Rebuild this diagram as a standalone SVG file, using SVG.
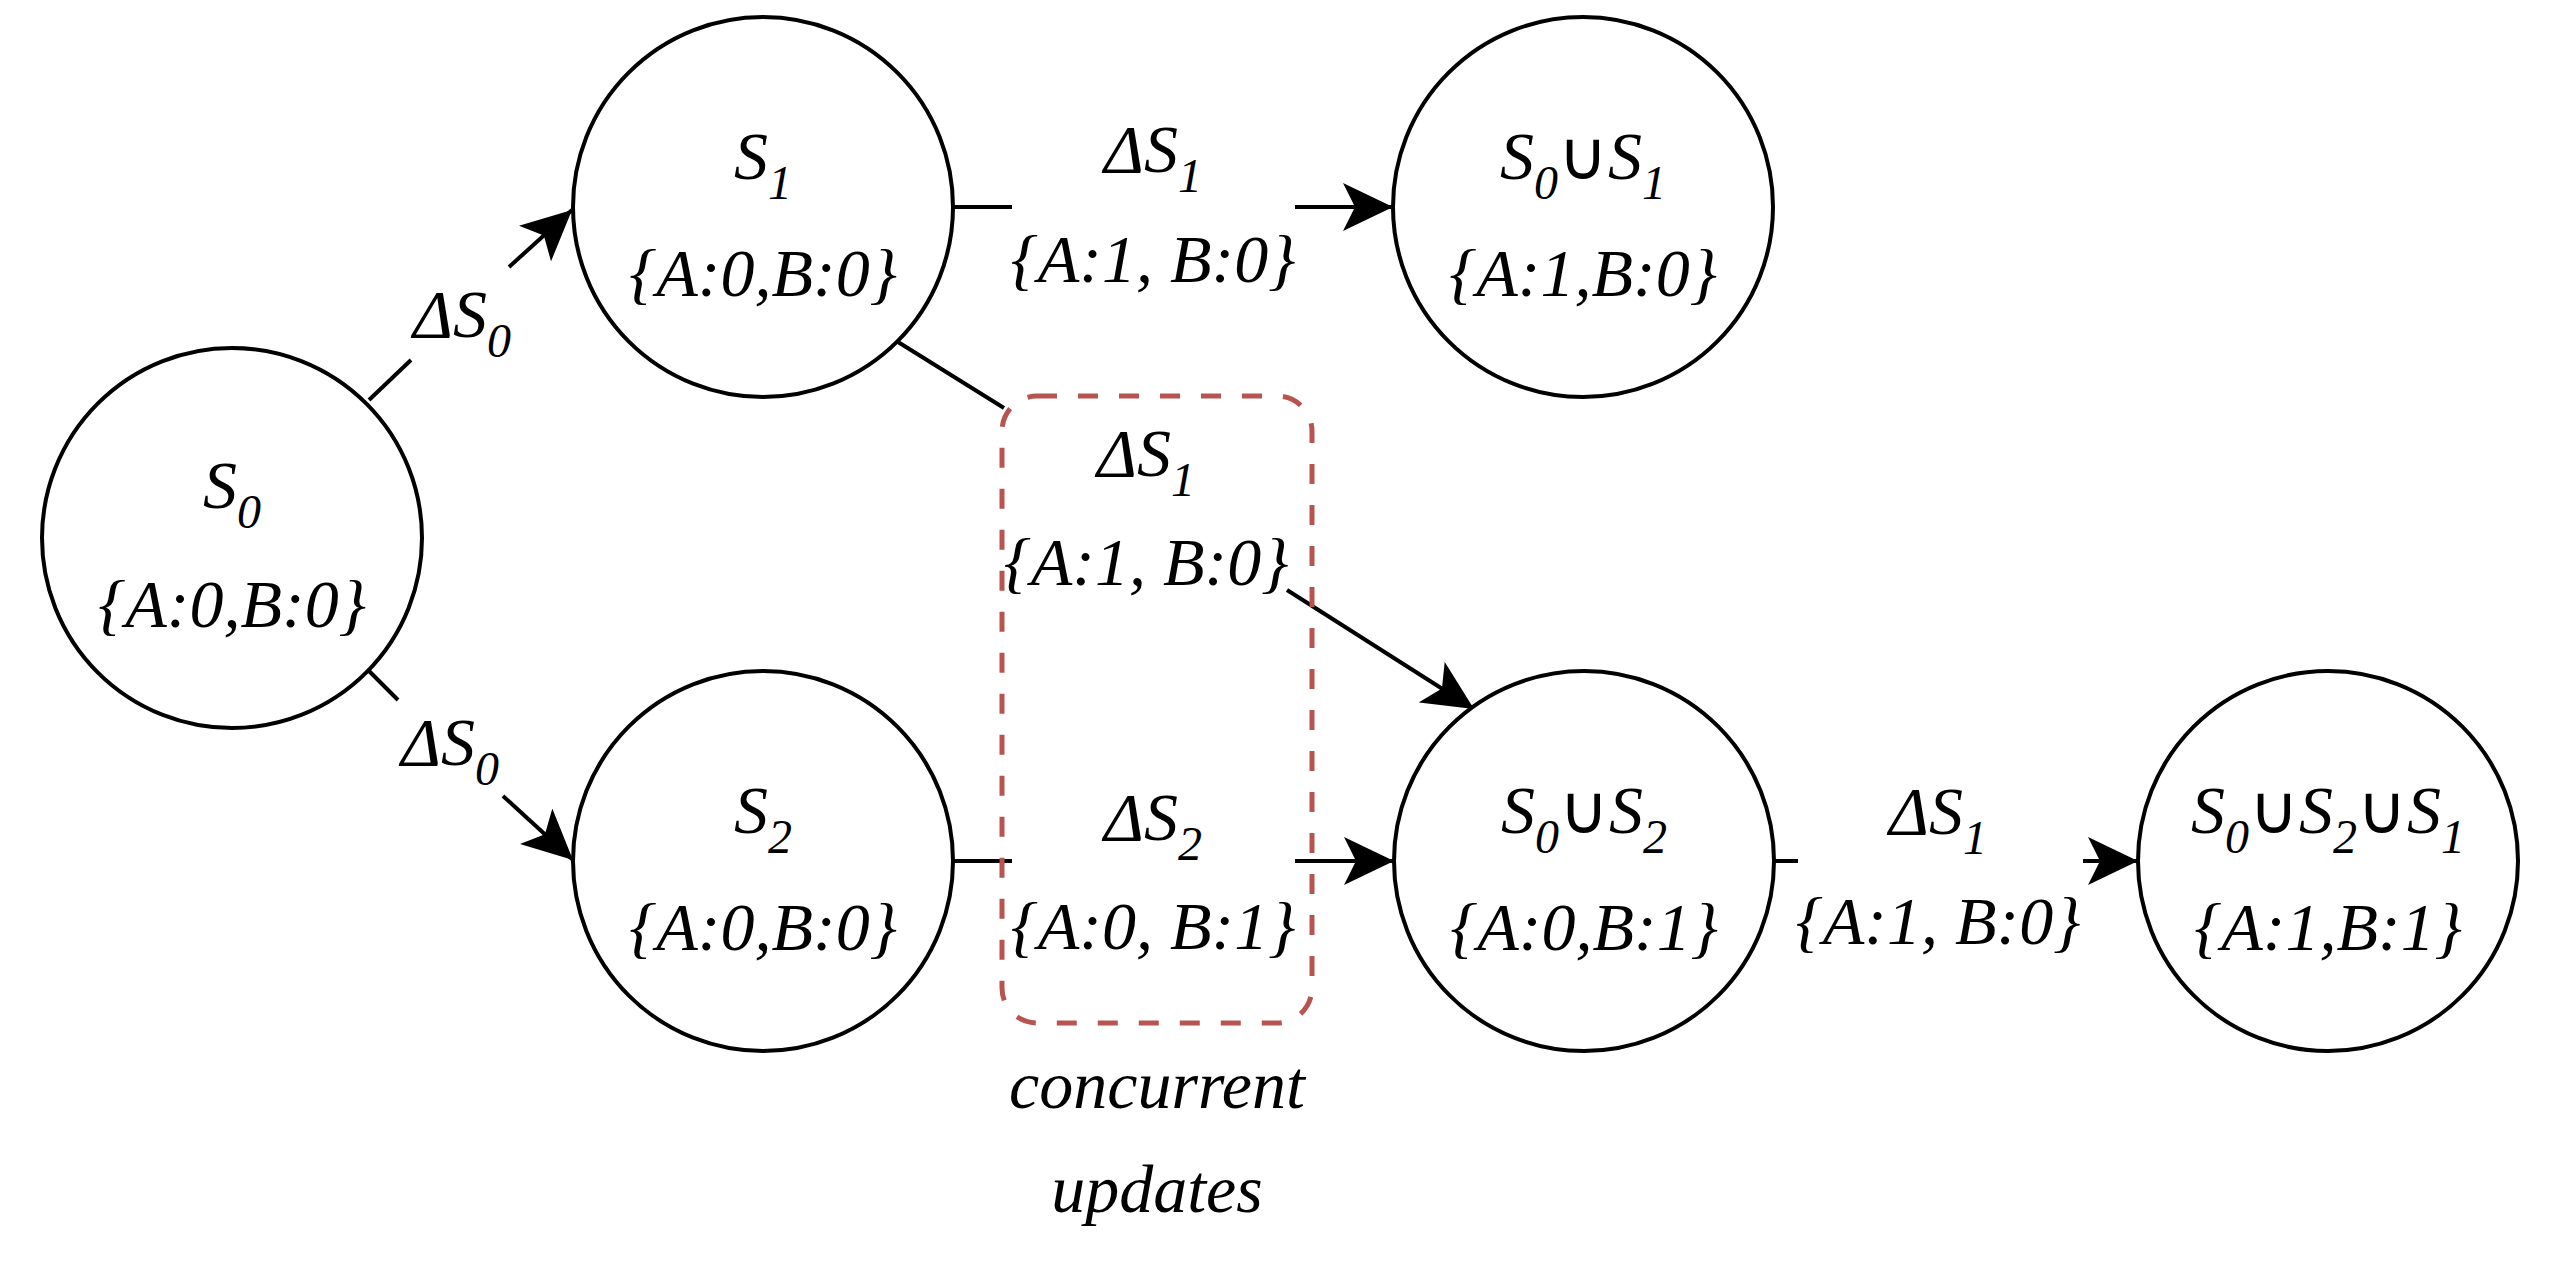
<svg xmlns="http://www.w3.org/2000/svg" width="2558" height="1266" viewBox="0 0 2558 1266">
<style>
text{font-family:"Liberation Serif","Times New Roman",serif;font-style:italic;font-size:68px;fill:#000;text-anchor:middle}
.u{font-style:normal}
.s{font-size:48px}
.n{fill:#fff;stroke:#000;stroke-width:4}
.e{fill:none;stroke:#000;stroke-width:4}
.box{fill:none;stroke:#b85450;stroke-width:5;stroke-dasharray:20 21}
</style>
<defs>
<marker id="a" viewBox="0 0 50 48" refX="50" refY="24" markerWidth="50" markerHeight="48" markerUnits="userSpaceOnUse" orient="auto">
<path d="M0,0 L50,24 L0,48 L12,24 Z" fill="#000"/>
</marker>
</defs>
<rect width="2558" height="1266" fill="#fff"/>
<g id="connectors">
<line class="e" x1="369" y1="400" x2="411" y2="360"/>
<line class="e" x1="509" y1="267" x2="572" y2="210" marker-end="url(#a)"/>
<line class="e" x1="369" y1="671" x2="398" y2="700"/>
<line class="e" x1="503" y1="796" x2="573" y2="860" marker-end="url(#a)"/>
<line class="e" x1="953" y1="207" x2="1012" y2="207"/>
<line class="e" x1="1295" y1="207" x2="1393" y2="207" marker-end="url(#a)"/>
<line class="e" x1="898" y1="342" x2="1004" y2="408"/>
<line class="e" x1="1287" y1="590" x2="1474" y2="709" marker-end="url(#a)"/>
<line class="e" x1="953" y1="861" x2="1012" y2="861"/>
<line class="e" x1="1295" y1="861" x2="1394" y2="861" marker-end="url(#a)"/>
<line class="e" x1="1774" y1="861" x2="1798" y2="861"/>
<line class="e" x1="2083" y1="861" x2="2138" y2="861" marker-end="url(#a)"/>
<text x="462" y="337">ΔS<tspan class="s" dy="20">0</tspan></text>
<text x="450" y="765">ΔS<tspan class="s" dy="20">0</tspan></text>
<text x="1153" y="172">ΔS<tspan class="s" dy="20">1</tspan></text>
<text x="1153" y="282">{A:1, B:0}</text>
<text x="1146" y="476">ΔS<tspan class="s" dy="20">1</tspan></text>
<text x="1146" y="585">{A:1, B:0}</text>
<text x="1153" y="840">ΔS<tspan class="s" dy="20">2</tspan></text>
<text x="1153" y="949">{A:0, B:1}</text>
<text x="1938" y="834">ΔS<tspan class="s" dy="20">1</tspan></text>
<text x="1938" y="944">{A:1, B:0}</text>
</g>
<g id="concurrent">
<rect class="box" x="1002" y="396" width="310" height="627" rx="35"/>
<text x="1157" y="1108">concurrent</text>
<text x="1157" y="1212">updates</text>
</g>
<g id="n-s0"><circle class="n" cx="232" cy="538" r="190"/><text x="232" y="508">S<tspan class="s" dy="20">0</tspan></text><text x="232" y="627">{A:0,B:0}</text></g>
<g id="n-s1"><circle class="n" cx="763" cy="207" r="190"/><text x="763" y="179">S<tspan class="s" dy="20">1</tspan></text><text x="763" y="296">{A:0,B:0}</text></g>
<g id="n-s01"><circle class="n" cx="1583" cy="207" r="190"/><text x="1583" y="179">S<tspan class="s" dy="20">0</tspan><tspan class="u" dy="-20">∪</tspan>S<tspan class="s" dy="20">1</tspan></text><text x="1583" y="296">{A:1,B:0}</text></g>
<g id="n-s2"><circle class="n" cx="763" cy="861" r="190"/><text x="763" y="833">S<tspan class="s" dy="20">2</tspan></text><text x="763" y="950">{A:0,B:0}</text></g>
<g id="n-s02"><circle class="n" cx="1584" cy="861" r="190"/><text x="1584" y="833">S<tspan class="s" dy="20">0</tspan><tspan class="u" dy="-20">∪</tspan>S<tspan class="s" dy="20">2</tspan></text><text x="1584" y="950">{A:0,B:1}</text></g>
<g id="n-s021"><circle class="n" cx="2328" cy="861" r="190"/><text x="2328" y="833">S<tspan class="s" dy="20">0</tspan><tspan class="u" dy="-20">∪</tspan>S<tspan class="s" dy="20">2</tspan><tspan class="u" dy="-20">∪</tspan>S<tspan class="s" dy="20">1</tspan></text><text x="2328" y="950">{A:1,B:1}</text></g>
</svg>
